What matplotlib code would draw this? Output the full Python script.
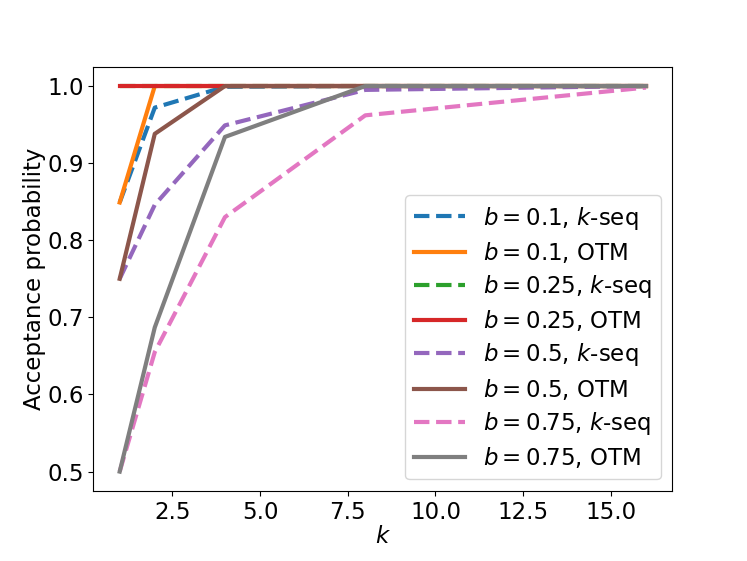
import matplotlib
matplotlib.use("Agg")
from matplotlib import pyplot as plt
from matplotlib.ticker import MultipleLocator

k = [1, 2, 4, 8, 16]

# acceptance probability per b, k-seq (dashed) and OTM (solid)
b_values = ["0.1", "0.25", "0.5", "0.75"]
kseq_01 = [0.849, 0.972, 0.999, 1.0, 1.0]
otm_01 = [0.849, 1.0, 1.0, 1.0, 1.0]
kseq_025 = [1.0, 1.0, 1.0, 1.0, 1.0]
otm_025 = [1.0, 1.0, 1.0, 1.0, 1.0]
kseq_05 = [0.75, 0.846, 0.949, 0.995, 1.0]
otm_05 = [0.75, 0.938, 1.0, 1.0, 1.0]
kseq_075 = [0.5, 0.655, 0.83, 0.962, 0.998]
otm_075 = [0.5, 0.687, 0.934, 1.0, 1.0]

kseq = [kseq_01, kseq_025, kseq_05, kseq_075]
otm = [otm_01, otm_025, otm_05, otm_075]

plt.rcParams['font.size'] = 16.5

fig, ax = plt.subplots(figsize=(7.47, 5.61), dpi=100)
fig.subplots_adjust(left=0.125, right=0.9, top=0.881, bottom=0.125)

for b, ks, om in zip(b_values, kseq, otm):
    ax.plot(k, ks, '--', lw=3, label='$b=%s$, $k$-seq' % b)
    ax.plot(k, om, '-', lw=3, label='$b=%s$, OTM' % b)

ax.xaxis.set_major_locator(MultipleLocator(2.5))
ax.set_xlabel('$k$', labelpad=1)
ax.set_ylabel('Acceptance probability', labelpad=1)
ax.legend(loc='lower right', labelspacing=0.36, handlelength=2.2)

fig.savefig('out.png', dpi=100)
